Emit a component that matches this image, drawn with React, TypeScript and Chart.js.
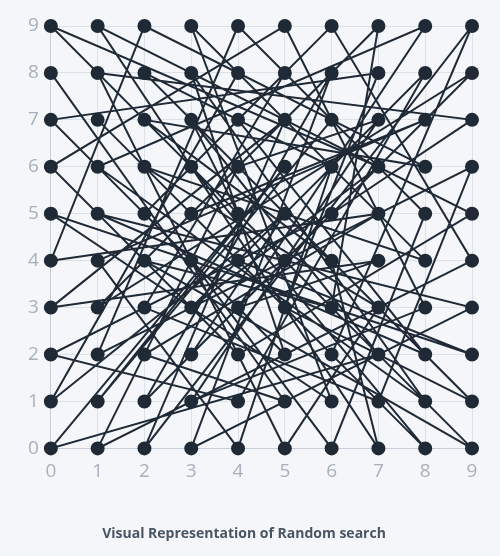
import React, { useRef, useEffect } from "react";
import Chart from "chart.js/auto";

// visiting order of grid cells, written as x*10 + y
const visitOrder = [
  47, 82, 15, 93, 30, 68, 21, 54, 9, 76, 33, 88, 41, 2, 65, 97, 18, 50, 73, 26,
  84, 39, 61, 5, 92, 44, 17, 80, 36, 58, 23, 71, 96, 12, 49, 85, 60, 34, 7, 78,
  53, 91, 28, 66, 40, 14, 87, 35, 62, 99, 20, 57, 3, 74, 43, 89, 16, 81, 38, 52,
  25, 69, 94, 10, 46, 77, 31, 83, 59, 6, 42, 95, 19, 70, 64, 27, 86, 48, 1, 55,
  32, 98, 13, 79, 63, 24, 90, 45, 37, 72, 0, 56, 11, 67, 29, 4, 75, 22, 51, 8,
];
const xValues = visitOrder.map((c) => Math.floor(c / 10));
const yValues = visitOrder.map((c) => c % 10);
const tickLabels = ["0", "1", "2", "3", "4", "5", "6", "7", "8", "9"];
const titleText = "Visual Representation of Random search";

const App = () => {
  const chartRef = useRef<HTMLCanvasElement>(null);

  useEffect(() => {
    const ctx = chartRef.current?.getContext("2d");
    if (!ctx) return;

    const axis = {
      type: "linear" as const,
      min: 0,
      max: 9,
      grid: { color: "#dde1e8", drawTicks: false },
      border: { color: "#c9ced6" },
      ticks: {
        stepSize: 1,
        padding: 12,
        color: "#a8b0bb",
        font: { family: "Open Sans", size: 19 },
        callback: (v: any) => tickLabels[v],
      },
    };

    const myChart = new Chart(ctx, {
      type: "scatter",
      data: {
        datasets: [
          {
            data: xValues.map((x, i) => ({ x, y: yValues[i] })),
            showLine: true,
            borderColor: "#1f2a36",
            borderWidth: 2,
            backgroundColor: "#1f2a36",
            pointRadius: 6,
            clip: false as any,
          },
        ],
      },
      options: {
        animation: false,
        responsive: true,
        maintainAspectRatio: false,
        layout: { padding: { left: 16, right: 28, top: 26, bottom: 8 } },
        plugins: {
          legend: { display: false },
          tooltip: { enabled: false },
          title: {
            display: true,
            text: titleText,
            position: "bottom",
            color: "#4a5563",
            font: { family: "Open Sans", size: 14, weight: "bold" },
            padding: { top: 30, bottom: 6 },
          },
        },
        scales: { x: axis, y: axis },
      },
    });

    return () => {
      myChart.destroy();
    };
  }, []);

  return (
    <div style={{ position: "fixed", left: 0, top: 0, width: 500, height: 556, background: "#f4f6f9" }}>
      <canvas ref={chartRef}></canvas>
    </div>
  );
};

export default App;
